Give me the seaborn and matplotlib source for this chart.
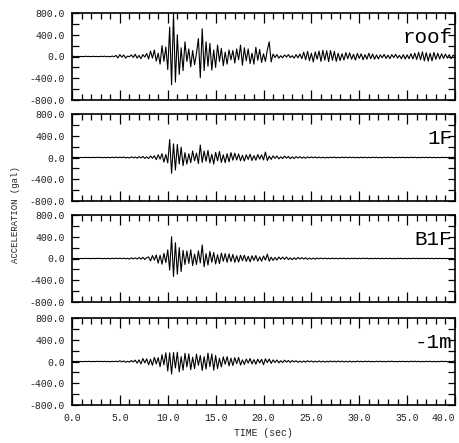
import numpy as np
import pandas as pd
import matplotlib
matplotlib.use("Agg")
import matplotlib.pyplot as plt
from matplotlib.ticker import MultipleLocator, FormatStrFormatter
import seaborn as sns

# Acceleration records (gal), sampled every 0.2 s from 0.0 to 40.0 s.
# One row per second of record.
dt = 0.2

roof = [
    0, 3, -1, 2, -3,
    1, -2, 4, -1, 2,
    -3, 4, -2, 1, -4,
    5, -2, 6, -5, 3,
    -6, 8, -4, 20, -25,
    35, -12, 28, -30, 8,
    -5, 30, -18, 42, -30,
    20, -40, 35, -10, 55,
    -45, 100, -30, 120, -85,
    60, -140, 200, -90, 175,
    -240, 540, -520, 780, -470,
    400, -330, 160, -260, 270,
    -90, 140, -190, 110, -150,
    60, 330, -390, 510, -260,
    270, -180, 240, -250, 120,
    -200, 210, -90, 150, -170,
    80, -140, 120, -60, 110,
    -120, 140, -60, 210, -160,
    160, -80, 140, -130, 60,
    -140, 170, -70, 130, -110,
    50, -90, 120, 270, -100,
    45, -20, 35, -30, 15,
    -25, 30, -10, 35, -20,
    15, -30, 35, -25, 45,
    -40, 80, -60, 95, -75,
    60, -100, 85, -50, 100,
    -90, 115, -70, 105, -95,
    110, -70, 95, -90, 60,
    -75, 50, -65, 70, -40,
    65, -50, 40, -65, 55,
    -35, 50, -60, 35, -50,
    60, -40, 45, -50, 30,
    -45, 30, -25, 40, -35,
    25, -40, 35, -20, 40,
    -30, 20, -40, 35, -45,
    30, -40, 50, -45, 60,
    -55, 75, -60, 85, -80,
    70, -85, 60, -80, 75,
    -50, 60, -45, 50, -35,
    45, -30, 35, -40, 25,
    0,
]

floor_1f = [
    0, 2, -1, 2, -2,
    1, -2, 3, -1, 2,
    -3, 2, -2, 3, -1,
    3, -4, 2, -3, 4,
    -4, 5, -2, 6, -5,
    8, -4, 10, -8, 3,
    -9, 12, -6, 9, -13,
    15, -8, 20, -16, 12,
    -20, 28, -15, 32, -38,
    50, -30, 70, -85, 55,
    -100, 330, -290, 250, -230,
    240, -120, 190, -150, 90,
    -120, 70, -95, 120, -60,
    80, -110, 230, -90, 120,
    -70, 130, -100, 60, -120,
    95, -60, 110, -90, 50,
    -95, 70, -80, 90, -50,
    80, -45, 65, -60, 40,
    -65, 50, -35, 60, -55,
    35, -50, 55, -30, 50,
    -45, 100, -55, 25, -35,
    30, -15, 28, -25, 12,
    -20, 25, -12, 20, -22,
    12, -18, 16, -10, 15,
    -12, 8, -14, 11, -6,
    10, -5, 11, -8, 6,
    -7, 5, -8, 4, -7,
    6, -3, 7, -6, 4,
    -5, 7, -3, 6, -5,
    6, -4, 5, -6, 3,
    -5, 6, -3, 5, -6,
    4, -5, 6, -2, 5,
    -5, 3, -5, 5, -3,
    5, -3, 5, -5, 2,
    -4, 5, -3, 4, -5,
    3, -4, 5, -2, 4,
    -4, 3, -5, 4, -2,
    4, -2, 4, -4, 3,
    -4, 2, -4, 3, -2,
    3, -3, 4, -2, 3,
    0,
]

floor_b1f = [
    0, 2, -1, 2, -2,
    1, -2, 3, -1, 2,
    -3, 2, -2, 3, -1,
    3, -4, 2, -3, 4,
    -5, 4, -3, 6, -4,
    8, -5, 8, -6, 4,
    -10, 12, -7, 12, -10,
    18, -12, 22, -18, 14,
    30, -45, 55, -30, 65,
    -85, 60, -105, 95, -75,
    160, -215, 400, -330, 290,
    -290, 200, -240, 150, -110,
    140, -90, 160, -130, 80,
    -110, 140, -80, 250, -150,
    90, -120, 130, -70, 110,
    -100, 70, -95, 100, -50,
    90, -70, 85, -55, 75,
    -70, 50, -65, 60, -40,
    60, -55, 40, -60, 50,
    -35, 55, -50, 30, -50,
    45, -30, 80, -50, 25,
    -35, 20, -30, 28, -15,
    25, -15, 28, -20, 12,
    -22, 14, -18, 20, -10,
    16, -10, 14, -15, 8,
    -12, 8, -13, 10, -6,
    8, -5, 8, -6, 4,
    -6, 7, -4, 6, -7,
    6, -3, 6, -6, 4,
    -5, 6, -3, 5, -5,
    5, -4, 6, -2, 5,
    -5, 3, -5, 5, -3,
    4, -5, 3, -4, 5,
    -3, 4, -5, 2, -4,
    4, -2, 4, -5, 3,
    -4, 3, -4, 4, -2,
    3, -4, 3, -2, 4,
    -3, 4, -2, 3, -4,
    3, -2, 3, -3, 2,
    -3, 2, -3, 3, -2,
    0,
]

ground_1m = [
    0, 2, -1, 3, -2,
    1, -3, 2, -1, 3,
    -3, 2, -2, 3, -1,
    3, -2, 4, -3, 2,
    -5, 4, -3, 6, -4,
    14, -8, 12, -15, 5,
    -12, 18, -8, 25, -30,
    30, -45, 55, -25, 50,
    -60, 40, -70, 75, -45,
    70, -95, 125, -60, 160,
    -175, 160, -230, 165, -120,
    170, -190, 90, -160, 150,
    -100, 140, -150, 80, -130,
    135, -70, 110, -165, 90,
    -140, 155, -95, 140, -160,
    110, -130, 60, -100, 85,
    -50, 90, -80, 60, -75,
    70, -40, 75, -65, 30,
    -55, 45, -30, 55, -45,
    35, -50, 45, -25, 40,
    -60, 50, -20, 45, -35,
    30, -18, 28, -25, 15,
    -20, 24, -12, 20, -18,
    18, -10, 15, -16, 8,
    -14, 10, -12, 14, -7,
    10, -11, 6, -9, 10,
    -10, 7, -10, 5, -9,
    9, -6, 8, -9, 10,
    -7, 8, -9, 5, -8,
    8, -9, 4, -8, 9,
    -6, 4, -7, 6, -3,
    6, -5, 3, -6, 5,
    -4, 6, -5, 3, -6,
    5, -3, 6, -4, 2,
    -5, 4, -3, 5, -6,
    3, -5, 6, -3, 5,
    -4, 5, -6, 2, -5,
    5, -3, 4, -6, 3,
    -5, 2, -4, 5, -3,
    4, -5, 2, -4, 5,
    0,
]

panel_labels = ["roof", "1F", "B1F", "-1m"]
series = [roof, floor_1f, floor_b1f, ground_1m]

y_ticks = [-800, -400, 0, 400, 800]
x_ticks = [0, 5, 10, 15, 20, 25, 30, 35, 40]

time = np.round(np.arange(len(roof)) * dt, 1)
records = pd.DataFrame({"time": time})
for name, values in zip(panel_labels, series):
    records[name] = values

sns.set_theme(style="ticks")
mono = ["Liberation Mono", "DejaVu Sans Mono"]
plt.rcParams["font.family"] = mono

W, H = 460, 443
fig = plt.figure(figsize=(W / 100, H / 100), dpi=100)

panel_tops = [13, 114, 215, 318]
panel_h = 87
x0, x1 = 72, 455

for i, (name, top) in enumerate(zip(panel_labels, panel_tops)):
    ax = fig.add_axes([x0 / W, 1 - (top + panel_h) / H, (x1 - x0) / W, panel_h / H])
    sns.lineplot(data=records, x="time", y=name, ax=ax, color="black",
                 linewidth=0.8, estimator=None, errorbar=None)
    ax.set_xlim(0, 40)
    ax.set_ylim(-800, 800)
    ax.set_yticks(y_ticks)
    ax.yaxis.set_minor_locator(MultipleLocator(200))
    ax.yaxis.set_major_formatter(FormatStrFormatter("%.1f"))
    ax.set_xticks(x_ticks)
    ax.xaxis.set_minor_locator(MultipleLocator(1))
    ax.xaxis.set_major_formatter(FormatStrFormatter("%.1f"))
    ax.tick_params(axis="both", which="both", direction="in",
                   top=True, bottom=True, left=True, right=True,
                   color="black", width=0.9, labelsize=7, labelcolor="#222222")
    ax.tick_params(axis="x", which="major", length=7, pad=6)
    ax.tick_params(axis="x", which="minor", length=4)
    ax.tick_params(axis="y", which="major", length=5, pad=5)
    ax.tick_params(axis="y", which="minor", length=5)
    for side in ax.spines.values():
        side.set_linewidth(1.2)
        side.set_color("black")
    ax.set_ylabel("")
    if i < 3:
        ax.tick_params(axis="x", which="both", labelbottom=False)
        ax.set_xlabel("")
    else:
        ax.set_xlabel("TIME (sec)", fontsize=7, labelpad=3, color="#222222")
        fig.canvas.draw()
        ax.get_xticklabels()[-1].set_horizontalalignment("right")
    ax.text(39.7, 350, name, ha="right", va="center", fontsize=15,
            color="black", family=mono)

fig.text(16 / W, 1 - 215 / H, "ACCELERATION (gal)", rotation=90,
         ha="center", va="center", fontsize=6.5, color="#222222", family=mono)

fig.savefig("out.png", dpi=100, facecolor="white")
